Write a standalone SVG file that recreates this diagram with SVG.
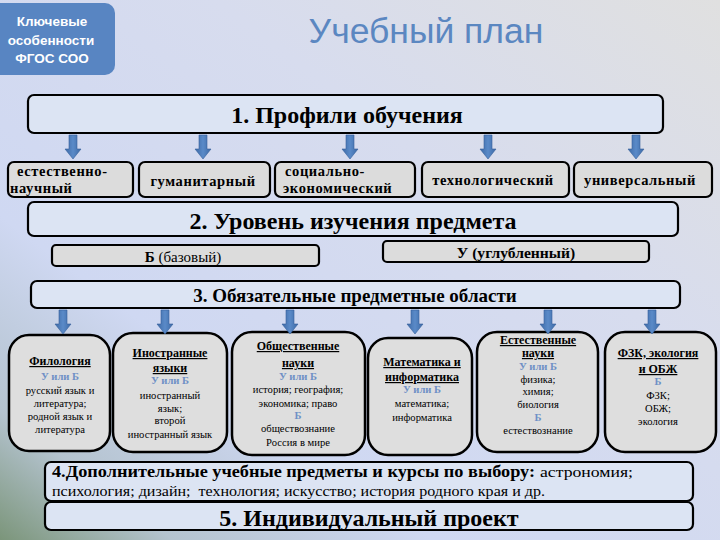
<svg xmlns="http://www.w3.org/2000/svg" width="720" height="540" viewBox="0 0 720 540">
<defs>
<linearGradient id="bg" x1="0" y1="1" x2="1" y2="0">
<stop offset="0" stop-color="#7b957a"/>
<stop offset="0.12" stop-color="#b4c3cf"/>
<stop offset="0.3" stop-color="#cfd8f2"/>
<stop offset="0.65" stop-color="#d7dcee"/>
<stop offset="1" stop-color="#e0e0e0"/>
</linearGradient>
<linearGradient id="arrowFill" x1="0" y1="0" x2="1" y2="0">
<stop offset="0" stop-color="#3d6aa6"/>
<stop offset="0.5" stop-color="#5a8ac8"/>
<stop offset="1" stop-color="#3d6aa6"/>
</linearGradient>
<path id="arr" d="M-4,0 H4 V14 H8 L0,24 L-8,14 H-4 Z"/>
<style>
.bar{fill:#dce4f3;stroke:#000;stroke-width:2.2}
.gbox{fill:#dcdcdc;stroke:#000;stroke-width:2.2}
.sbox{fill:#dedede;stroke:#000;stroke-width:2.5}
.ser{font-family:"Liberation Serif","Times New Roman",serif;fill:#000}
.b{font-weight:bold}
.h{font-size:24px;font-weight:bold}
.prof{font-size:14.5px;font-weight:bold;letter-spacing:0.6px}
.st{font-size:10.6px;text-anchor:middle}
.sh{font-size:12px;font-weight:bold;text-decoration:underline;text-anchor:middle}
.bl{fill:#6f90c6;font-weight:bold}
.conn use{fill:url(#arrowFill);stroke:#35609a;stroke-width:0.6}
</style>
</defs>
<rect width="720" height="540" fill="url(#bg)"/>

<g id="badge">
<rect x="-12" y="3" width="127" height="72" rx="10" fill="#5885c2"/>
<g font-family="'Liberation Sans',Arial,sans-serif" font-size="13.5" font-weight="bold" fill="#fff" text-anchor="middle">
<text x="52" y="26">Ключевые</text>
<text x="51" y="45">особенности</text>
<text x="52" y="63">ФГОС СОО</text>
</g>
</g>

<g id="title">
<text x="426" y="43" font-family="'Liberation Sans',Arial,sans-serif" font-size="35.5" fill="#5b87c1" text-anchor="middle">Учебный план</text>
</g>

<g id="profiles-bar">
<rect class="bar" x="28" y="95" width="635" height="38" rx="6"/>
<text class="ser h" x="347" y="123" text-anchor="middle">1. Профили обучения</text>
</g>

<g id="p1"><rect class="gbox" x="8" y="162" width="125" height="35" rx="6"/>
<text class="ser prof" x="17" y="176">естественно-</text><text class="ser prof" x="10" y="193">научный</text></g>
<g id="p2"><rect class="gbox" x="139" y="162" width="131" height="35" rx="6"/>
<text class="ser prof" x="203" y="186" text-anchor="middle">гуманитарный</text></g>
<g id="p3"><rect class="gbox" x="275" y="162" width="140" height="35" rx="6"/>
<text class="ser prof" x="285" y="176">социально-</text><text class="ser prof" x="283" y="193">экономический</text></g>
<g id="p4"><rect class="gbox" x="422" y="162" width="147" height="35" rx="6"/>
<text class="ser prof" x="493" y="185" text-anchor="middle">технологический</text></g>
<g id="p5"><rect class="gbox" x="574" y="162" width="138" height="35" rx="6"/>
<text class="ser prof" x="640" y="185" text-anchor="middle">универсальный</text></g>

<g id="level-bar">
<rect class="bar" x="28" y="202" width="650" height="34" rx="6"/>
<text class="ser b" x="353" y="229" font-size="24" text-anchor="middle">2. Уровень изучения предмета</text>
</g>
<g id="level-b">
<rect class="gbox" x="52" y="245" width="267" height="21" rx="4"/>
<text class="ser" x="183" y="262" font-size="15" text-anchor="middle"><tspan font-weight="bold">Б</tspan> (базовый)</text>
</g>
<g id="level-u">
<rect class="gbox" x="383" y="241" width="266" height="21" rx="4"/>
<text class="ser b" x="516" y="258" font-size="15.6" text-anchor="middle">У (углубленный)</text>
</g>

<g id="areas-bar">
<rect class="bar" x="31" y="281" width="649" height="27" rx="6"/>
<text class="ser b" x="355" y="302" font-size="19" text-anchor="middle">3. Обязательные предметные области</text>
</g>

<g id="s1"><rect class="sbox" x="9" y="335" width="101" height="116" rx="20"/>
<g class="ser">
<text class="sh" x="60" y="365">Филология</text>
<text class="st bl" x="60" y="380">У или Б</text>
<text class="st" x="60" y="394">русский язык и</text>
<text class="st" x="60" y="407">литература;</text>
<text class="st" x="60" y="420">родной язык и</text>
<text class="st" x="60" y="433">литература</text>
</g></g>
<g id="s2"><rect class="sbox" x="113" y="333" width="114" height="119" rx="20"/>
<g class="ser">
<text class="sh" x="170" y="357">Иностранные</text>
<text class="sh" x="170" y="372">языки</text>
<text class="st bl" x="170" y="384">У или Б</text>
<text class="st" x="170" y="399">иностранный</text>
<text class="st" x="170" y="412">язык;</text>
<text class="st" x="170" y="424">второй</text>
<text class="st" x="170" y="438">иностранный язык</text>
</g></g>
<g id="s3"><rect class="sbox" x="232" y="332" width="133" height="123" rx="20"/>
<g class="ser">
<text class="sh" x="298" y="350" font-size="11.8">Общественные</text>
<text class="sh" x="298" y="367" font-size="11.8">науки</text>
<text class="st bl" x="298" y="380">У или Б</text>
<text class="st" x="298" y="393" font-size="11">история; география;</text>
<text class="st" x="298" y="407" font-size="11">экономика; право</text>
<text class="st bl" x="298" y="419">Б</text>
<text class="st" x="298" y="432" font-size="11">обществознание</text>
<text class="st" x="298" y="446" font-size="11">Россия в мире</text>
</g></g>
<g id="s4"><rect class="sbox" x="368" y="338" width="104" height="117" rx="20"/>
<g class="ser">
<text class="sh" x="422" y="366" font-size="13.5">Математика и</text>
<text class="sh" x="422" y="381" font-size="13.5">информатика</text>
<text class="st bl" x="422" y="393">У или Б</text>
<text class="st" x="422" y="407">математика;</text>
<text class="st" x="422" y="421">информатика</text>
</g></g>
<g id="s5"><rect class="sbox" x="477" y="332" width="121" height="120" rx="20"/>
<g class="ser">
<text class="sh" x="538" y="344" font-size="11">Естественные</text>
<text class="sh" x="538" y="357" font-size="11">науки</text>
<text class="st bl" x="538" y="370">У или Б</text>
<text class="st" x="538" y="383">физика;</text>
<text class="st" x="538" y="395">химия;</text>
<text class="st" x="538" y="408">биология</text>
<text class="st bl" x="538" y="421">Б</text>
<text class="st" x="538" y="434">естествознание</text>
</g></g>
<g id="s6"><rect class="sbox" x="605" y="332" width="111" height="120" rx="20"/>
<g class="ser">
<text class="sh" x="658" y="357" font-size="12.5">ФЗК, экология</text>
<text class="sh" x="658" y="373" font-size="12.5">и ОБЖ</text>
<text class="st bl" x="658" y="385">Б</text>
<text class="st" x="658" y="399">ФЗК;</text>
<text class="st" x="658" y="412">ОБЖ;</text>
<text class="st" x="658" y="425">экология</text>
</g></g>

<g id="electives">
<rect class="bar" x="45" y="462" width="648" height="39" rx="6"/>
<text class="ser b" x="52" y="477" font-size="16" textLength="483" lengthAdjust="spacingAndGlyphs">4.Дополнительные учебные предметы и курсы по выбору:</text>
<text class="ser" x="540" y="477" font-size="14.5" textLength="93" lengthAdjust="spacingAndGlyphs">астрономия;</text>
<text class="ser" x="52" y="496" font-size="14.5" textLength="493" lengthAdjust="spacingAndGlyphs" xml:space="preserve">психология; дизайн;  технология; искусство; история родного края и др.</text>
</g>
<g id="project">
<rect class="bar" x="45" y="502" width="648" height="28" rx="6"/>
<text class="ser b" x="369" y="526" font-size="24" text-anchor="middle">5. Индивидуальный проект</text>
</g>

<g id="connectors" class="conn">
<use href="#arr" x="73" y="135"/>
<use href="#arr" x="203" y="135"/>
<use href="#arr" x="350" y="135"/>
<use href="#arr" x="488" y="135"/>
<use href="#arr" x="636" y="135"/>
<use href="#arr" x="63" y="310"/>
<use href="#arr" x="165" y="310"/>
<use href="#arr" x="290" y="310"/>
<use href="#arr" x="415" y="310"/>
<use href="#arr" x="548" y="310"/>
<use href="#arr" x="652" y="310"/>
</g>
</svg>
